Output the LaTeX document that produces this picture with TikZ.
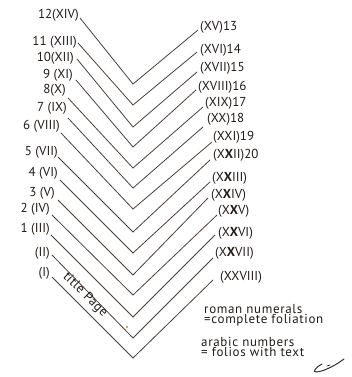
\documentclass[tikz,border=0pt]{standalone}
\usepackage{fontspec}
\setmainfont{PT Sans}
\definecolor{ink}{HTML}{4A3F37}
\definecolor{txt}{HTML}{221C18}
\definecolor{dotc}{HTML}{D07A3A}
\begin{document}
\begin{tikzpicture}[x=1pt,y=-1pt,
  leaf/.style={draw=ink,line width=0.8pt,line join=miter},
  lab/.style={text=txt,font=\fontsize{13}{13}\selectfont,inner sep=0pt},
  llab/.style={lab,anchor=east},
  rlab/.style={lab,anchor=west},
  legend/.style={text=txt,font=\fontsize{13}{10.5}\selectfont\addfontfeatures{LetterSpace=5},inner sep=0pt,anchor=north west,align=left}]
\useasboundingbox (0,0) rectangle (352,377);
% left ends, vertices, right ends
\foreach \i/\lx/\ly/\vy/\rx/\ry in {
 1/80/18/84/198/30, 2/78/43/105/197/52, 3/77/59/127/197/72, 4/76/80/147/196/90,
 5/68/98/168/203/107, 6/68/118/188/203/127, 7/61/133/209/212/142, 8/58/157/232/210/160,
 9/60/180/253/210/182, 10/58/200/275/208/198, 11/52/215/295/217/215, 12/51/235/317/215/235,
 13/52/255/338/213/258, 14/52/277/358/213/280}{
  \coordinate (L\i) at (\lx,\ly);
  \coordinate (V\i) at (133,\vy);
  \coordinate (R\i) at (\rx,\ry);
  \draw[leaf] (L\i) -- (V\i) -- (R\i);
}
% left labels
\node[llab] (l1) at (79,15) {12(XIV)};
\node[llab] (l2) at (77,42) {11 (XIII)};
\node[llab] (l3) at (74,58) {10(XII)};
\node[llab] (l4) at (73,75) {9 (XI)};
\node[llab] (l5) at (66,90) {8(X)};
\node[llab] (l6) at (67,108) {7 (IX)};
\node[llab] (l7) at (60,126) {6 (VIII)};
\node[llab] (l8) at (58,152) {5 (VII)};
\node[llab] (l9) at (58,173) {4 (VI)};
\node[llab] (l10) at (55,193) {3 (V)};
\node[llab] (l11) at (50,209) {2 (IV)};
\node[llab] (l12) at (50,229) {1 (III)};
\node[llab] (l13) at (50,253) {(II)};
\node[llab] (l14) at (50,273) {(I)};
% right labels
\node[rlab] (r1) at (200,27) {(XV)13};
\node[rlab] (r2) at (200,50) {(XVI)14};
\node[rlab] (r3) at (200,68) {(XVII)15};
\node[rlab] (r4) at (198,87) {(XVIII)16};
\node[rlab] (r5) at (205,103) {(XIX)17};
\node[rlab] (r6) at (207,119) {(XX)18};
\node[rlab] (r7) at (213,137) {(XXI)19};
\node[rlab] (r8) at (213,155) {(X\textbf{X}II)20};
\node[rlab] (r9) at (212,178) {(X\textbf{X}III)};
\node[rlab] (r10) at (211,195) {(X\textbf{X}IV)};
\node[rlab] (r11) at (218,211) {(X\textbf{X}V)};
\node[rlab] (r12) at (218,233) {(X\textbf{X}VI)};
\node[rlab] (r13) at (215,253) {(X\textbf{X}VII)};
\node[rlab] (r14) at (220,277) {(XXVIII)};
% title page
\node[text=txt,font=\fontsize{13}{13}\selectfont\addfontfeatures{LetterSpace=4},rotate=-45,inner sep=0pt] (tp) at (85,295) {title Page};
% orange mark
\fill[dotc] (127,327) circle (1.2);
% legend
\node[legend] (g1) at (204,304) {roman numerals\\=complete foliation};
\node[legend] (g2) at (201,337) {arabic numbers\\= folios with text};
% signature
\draw[txt,line width=0.9pt,line cap=round] (322,364) .. controls (316,367) and (312,372) .. (316,372) .. controls (322,372) and (335,366) .. (344,359);
\draw[txt,line width=0.7pt,line cap=round] (327,366) -- (330,365);
\end{tikzpicture}
\end{document}
